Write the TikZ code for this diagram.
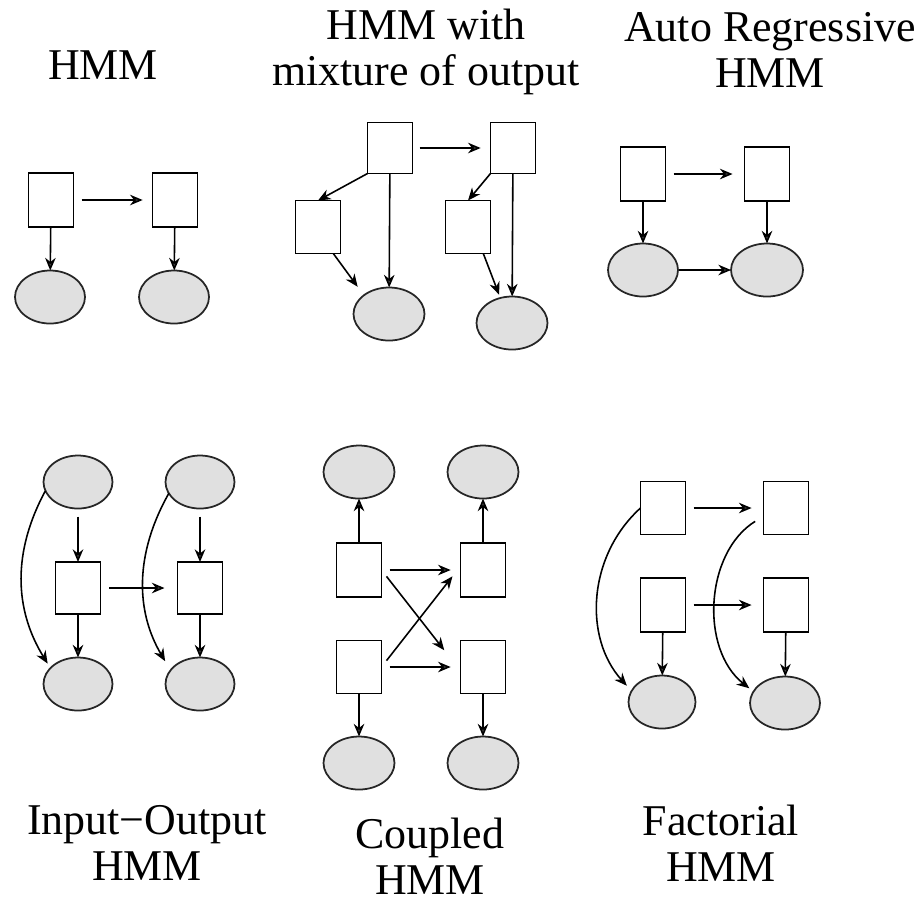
\documentclass[tikz,border=0pt]{standalone}
\usepackage{fontspec}
\setmainfont{Liberation Serif}
\usepackage{tikz}
\usepackage{tikz-network}
\usepackage{xcolor}
\usetikzlibrary{shapes.geometric,arrows.meta}

\tikzset{
  hidden/.style={rectangle,draw=black,line width=0.5pt,fill=white,minimum width=0.45cm,minimum height=0.54cm,inner sep=0pt},
  observed/.style={ellipse,draw=black!85,line width=0.5pt,fill=black!12,minimum width=0.70cm,minimum height=0.53cm,inner sep=0pt},
  link/.style={draw=black,line width=0.45pt,-{Stealth[length=3.6pt,width=3pt]}},
  title/.style={align=center,inner sep=0pt,font=\fontsize{12.5pt}{13pt}\selectfont}
}

\begin{document}
\begin{tikzpicture}
    \useasboundingbox (0,0) rectangle (9.19,-9.03);
    \node[title] (tHMM) at (1.03,-0.655) {HMM};
    \node[title] (tMix) at (4.26,-0.52) {HMM with\\mixture of output};
    \node[title] (tAR) at (7.70,-0.50) {Auto Regressive\\HMM};
    \node[title] (tIO) at (1.47,-8.43) {Input−Output\\HMM};
    \node[title] (tCp) at (4.30,-8.56) {Coupled\\HMM};
    \node[title] (tFa) at (7.21,-8.43) {Factorial\\HMM};
    \Vertex[x=0.51,y=-2.00,size=0.45,style={hidden}]{h1}
    \Vertex[x=1.75,y=-2.00,size=0.45,style={hidden}]{h2}
    \Vertex[x=0.50,y=-2.97,size=0.53,style={observed}]{o1}
    \Vertex[x=1.74,y=-2.97,size=0.53,style={observed}]{o2}
    \Vertex[x=3.90,y=-1.48,size=0.45,style={hidden,minimum height=0.51cm}]{m1}
    \Vertex[x=5.13,y=-1.48,size=0.45,style={hidden,minimum height=0.51cm}]{m2}
    \Vertex[x=3.18,y=-2.27,size=0.45,style={hidden,minimum height=0.53cm}]{s1}
    \Vertex[x=4.68,y=-2.27,size=0.45,style={hidden,minimum height=0.53cm}]{s2}
    \Vertex[x=3.89,y=-3.14,size=0.53,style={observed,minimum width=0.71cm}]{e1}
    \Vertex[x=5.12,y=-3.23,size=0.53,style={observed,minimum width=0.71cm}]{e2}
    \Vertex[x=6.43,y=-1.74,size=0.45,style={hidden}]{a1}
    \Vertex[x=7.67,y=-1.74,size=0.45,style={hidden}]{a2}
    \Vertex[x=6.43,y=-2.70,size=0.54,style={observed}]{b1}
    \Vertex[x=7.67,y=-2.70,size=0.54,style={observed,minimum width=0.72cm}]{b2}
    \Vertex[x=0.78,y=-4.82,size=0.54,style={observed,minimum width=0.69cm}]{u1}
    \Vertex[x=2.00,y=-4.82,size=0.54,style={observed,minimum width=0.69cm}]{u2}
    \Vertex[x=0.78,y=-5.88,size=0.44,style={hidden,minimum height=0.52cm}]{x1}
    \Vertex[x=2.00,y=-5.88,size=0.44,style={hidden,minimum height=0.52cm}]{x2}
    \Vertex[x=0.78,y=-6.84,size=0.52,style={observed,minimum width=0.69cm}]{y1}
    \Vertex[x=2.00,y=-6.84,size=0.52,style={observed,minimum width=0.69cm}]{y2}
    \Vertex[x=3.59,y=-4.72,size=0.55,style={observed,minimum width=0.71cm}]{cy1}
    \Vertex[x=4.83,y=-4.72,size=0.55,style={observed,minimum width=0.71cm}]{cy2}
    \Vertex[x=3.59,y=-5.70,size=0.46,style={hidden}]{c1}
    \Vertex[x=4.83,y=-5.70,size=0.46,style={hidden}]{c2}
    \Vertex[x=3.59,y=-6.67,size=0.46,style={hidden,minimum height=0.53cm}]{c3}
    \Vertex[x=4.83,y=-6.67,size=0.46,style={hidden,minimum height=0.53cm}]{c4}
    \Vertex[x=3.59,y=-7.63,size=0.53,style={observed,minimum width=0.71cm}]{cz1}
    \Vertex[x=4.83,y=-7.63,size=0.53,style={observed,minimum width=0.71cm}]{cz2}
    \Vertex[x=6.63,y=-5.08,size=0.46,style={hidden,minimum height=0.53cm}]{f1}
    \Vertex[x=7.86,y=-5.08,size=0.45,style={hidden,minimum height=0.53cm}]{f2}
    \Vertex[x=6.63,y=-6.05,size=0.46,style={hidden}]{f3}
    \Vertex[x=7.86,y=-6.05,size=0.45,style={hidden}]{f4}
    \Vertex[x=6.62,y=-7.02,size=0.51,style={observed,minimum width=0.67cm}]{g1}
    \Vertex[x=7.85,y=-7.03,size=0.52,style={observed}]{g2}
    \Edge[style={link,shorten <=2.3pt,shorten >=2.8pt}](h1)(h2)
    \Edge[style={link}](h1)(o1)
    \Edge[style={link}](h2)(o2)
    \Edge[style={link,shorten <=2pt,shorten >=2.8pt}](m1)(m2)
    \Edge[style={link}](m1)(e1)
    \Edge[style={link}](m2)(e2)
    \draw[link] (m1.south west) -- (s1.north);
    \draw[link,shorten >=3pt] (s1.-60) -- (e1.north west);
    \draw[link] (m2.south west) -- (s2.north);
    \draw[link,shorten >=1pt] (s2.-60) -- (e2.115);
    \Edge[style={link,shorten <=2.3pt,shorten >=3.4pt}](a1)(a2)
    \Edge[style={link}](a1)(b1)
    \Edge[style={link}](a2)(b2)
    \Edge[style={link}](b1)(b2)
    \Edge[style={link,shorten <=2.3pt}](u1)(x1)
    \Edge[style={link}](x1)(y1)
    \Edge[style={link,shorten <=2.5pt,shorten >=3.7pt}](x1)(x2)
    \Edge[style={link,shorten <=2.3pt}](u2)(x2)
    \Edge[style={link}](x2)(y2)
    \draw[link,shorten >=1.5pt] (u1.195) to[bend right=30] (y1.150);
    \draw[link,shorten >=3pt] (u2.200) to[bend right=30] (y2.155);
    \Edge[style={link}](c1)(cy1)
    \Edge[style={link}](c2)(cy2)
    \Edge[style={link}](c3)(cz1)
    \Edge[style={link}](c4)(cz2)
    \Edge[style={link,shorten <=2.3pt,shorten >=2.8pt}](c1)(c2)
    \Edge[style={link,shorten <=2.3pt,shorten >=2.8pt}](c3)(c4)
    \draw[link,shorten <=2.3pt,shorten >=7.5pt] (c1.east) -- (c4.190);
    \draw[link,shorten <=2.3pt,shorten >=3.7pt] (c3.east) -- (c2.170);
    \Edge[style={link,shorten <=2.3pt,shorten >=3.4pt}](f1)(f2)
    \Edge[style={link,shorten <=2.3pt,shorten >=3.4pt}](f3)(f4)
    \Edge[style={link}](f3)(g1)
    \Edge[style={link}](f4)(g2)
    \draw[link,shorten >=2pt] (f1.west) to[bend right=45] (g1.160);
    \draw[link,shorten <=2.8pt,shorten >=1.5pt] (f2.200) to[bend right=55] (g2.160);
\end{tikzpicture}
\end{document}
